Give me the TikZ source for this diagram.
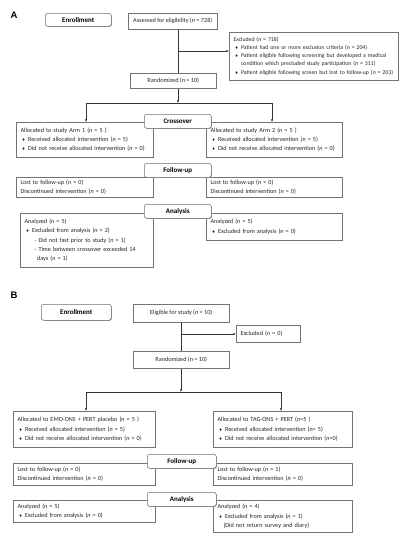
\documentclass[tikz,border=0pt]{standalone}
\usepackage{fontspec}
\setmainfont{Carlito}
\newfontfamily\djv{DejaVu Sans}
\newfontfamily\arialf{Liberation Sans}
\usetikzlibrary{arrows.meta,shadows}
\newcommand\nn{\textit{n}}
\newcommand\bul{{\djv\fontsize{4}{4}\selectfont ♦}}
\newcommand\itm{\hspace*{1.3pt}\makebox[6.2pt][l]{\bul}}
\newcommand\cnt{\hspace*{7.5pt}}
\tikzset{
  shad/.style={general shadow={fill=black!45, shadow xshift=0.6pt, shadow yshift=-0.6pt}},
  cbox/.style={draw=black!55, line width=0.5pt, fill=white, shad, inner xsep=4.3pt, inner ysep=1pt,
    align=left, anchor=north west, text=black!85, font=\fontsize{6.2}{9.2}\selectfont},
  mbox/.style={cbox, align=center, inner xsep=1pt},
  lbox/.style={draw=black!55, line width=0.5pt, fill=white, rounded corners=2.5pt, shad,
    anchor=north west, font=\fontsize{7}{8}\selectfont\bfseries, inner sep=0pt, align=center},
  conn/.style={draw=black!80, line width=0.6pt},
  arr/.style={conn, -{Latex[length=2.6pt,width=2.2pt]}},
  panel/.style={font=\arialf\bfseries\fontsize{9.5}{10}\selectfont, inner sep=0pt}
}
\begin{document}
\begin{tikzpicture}[x=1pt,y=-1pt]
\useasboundingbox[fill=white] (0,0) rectangle (404,550);

% ---------------- Panel A ----------------
\node[panel] (pA) at (14,15) {A};
\node[lbox, minimum width=66pt, minimum height=13pt] (enA) at (45,13) {Enrollment};
\node[mbox, minimum width=89pt, minimum height=16pt] (aA) at (128,13) {Assessed for eligibility (\nn{} = 728)};
\node[cbox, minimum width=169pt, minimum height=48pt, text width=160.4pt, font=\fontsize{5.8}{8.1}\selectfont] (exA) at (229,32)
 {Excluded (\nn{} = 718)\\
  \itm Patient had one or more exclusion criteria (\nn{} = 204)\\
  \itm Patient eligible following screening but developed a medical\\
  \cnt condition which precluded study participation (\nn{} = 311)\\
  \itm Patient eligible following screen but lost to follow-up (\nn{} = 203)};
\node[mbox, minimum width=86pt, minimum height=15pt] (rdA) at (130,73) {Randomized (\nn{} = 10)};

\node[cbox, minimum width=137pt, minimum height=35pt, text width=128.4pt] (arm1) at (16,122)
 {Allocated to study Arm 1 (\nn{} = 5 )\\
  \itm Received allocated intervention (\nn{} = 5)\\
  \itm Did not receive allocated intervention (\nn{} = 0)};
\node[cbox, minimum width=136pt, minimum height=35pt, text width=127.4pt] (arm2) at (206,122)
 {Allocated to study Arm 2 (\nn{} = 5 )\\
  \itm Received allocated intervention (\nn{} = 5)\\
  \itm Did not receive allocated intervention (\nn{} = 0)};
\node[cbox, minimum width=137pt, minimum height=20pt, text width=128.4pt] (lo1A) at (16,177)
 {Lost to follow-up (\nn{} = 0)\\ Discontinued intervention (\nn{} = 0)};
\node[cbox, minimum width=136pt, minimum height=20pt, text width=127.4pt] (lo2A) at (206,177)
 {Lost to follow-up (\nn{} = 0)\\ Discontinued intervention (\nn{} = 0)};
\node[cbox, minimum width=133pt, minimum height=54pt, text width=124.4pt] (an1A) at (20,213)
 {Analyzed (\nn{} = 5)\\
  \itm Excluded from analysis (\nn{} = 2)\\
  \hspace*{10pt}- Did not fast prior to study (\nn{} = 1)\\
  \hspace*{10pt}- Time between crossover exceeded 14\\
  \hspace*{12.5pt}days (\nn{} = 1)};
\node[cbox, minimum width=136pt, minimum height=27pt, text width=127.4pt] (an2A) at (206,213)
 {Analyzed (\nn{} = 5)\\
  \itm Excluded from analysis (\nn{} = 0)};

\node[lbox, minimum width=67pt, minimum height=14pt] (crA) at (144,114) {Crossover};
\node[lbox, minimum width=67pt, minimum height=14pt] (fuA) at (144,163) {Follow-up};
\node[lbox, minimum width=67pt, minimum height=14pt] (anA) at (144,204) {Analysis};

\coordinate (vA) at (178,0);
\coordinate (jA) at (178,51);
\coordinate (sA) at (178,103);
\coordinate (lA) at (86,103);
\coordinate (rA) at (272,103);
\draw[conn] (aA.south -| vA) -- (rdA.north -| vA);
\draw[arr] (jA) -- (exA.west |- jA);
\draw[arr] (rdA.south -| vA) -- (sA);
\draw[conn] (lA) -- (rA);
\draw[arr] (lA) -- (arm1.north -| lA);
\draw[arr] (rA) -- (arm2.north -| rA);

% ---------------- Panel B ----------------
\node[panel] (pB) at (14,295) {B};
\node[lbox, minimum width=70pt, minimum height=16pt] (enB) at (41,304) {Enrollment};
\node[mbox, minimum width=96pt, minimum height=18pt] (elB) at (133,304) {Eligible for study (\nn{} = 10)};
\node[cbox, minimum width=64pt, minimum height=17pt, text width=55.4pt] (exB) at (236,325) {Excluded (\nn{} = 0)};
\node[mbox, minimum width=96pt, minimum height=17pt] (rdB) at (133,351) {Randomized (\nn{} = 10)};

\node[cbox, minimum width=142pt, minimum height=36pt, text width=133.4pt] (emo) at (13,411)
 {Allocated to EMO-ONS + PERT placebo (\nn{} = 5 )\\
  \itm Received allocated intervention (\nn{} = 5)\\
  \itm Did not receive allocated intervention (\nn{} = 0)};
\node[cbox, minimum width=139pt, minimum height=36pt, text width=130.4pt] (tag) at (213,411)
 {Allocated to TAG-ONS + PERT (\nn{}=5 )\\
  \itm Received allocated intervention (\nn{}= 5)\\
  \itm Did not receive allocated intervention (\nn{}=0)};
\node[cbox, minimum width=142pt, minimum height=22pt, text width=133.4pt] (lo1B) at (13,463)
 {Lost to follow-up (\nn{} = 0)\\ Discontinued intervention (\nn{} = 0)};
\node[cbox, minimum width=139pt, minimum height=22pt, text width=130.4pt] (lo2B) at (213,463)
 {Lost to follow-up (\nn{} = 1)\\ Discontinued intervention (\nn{} = 0)};
\node[cbox, minimum width=142pt, minimum height=22pt, text width=133.4pt] (an1B) at (13,500)
 {Analyzed (\nn{} = 5)\\
  \itm Excluded from analysis (\nn{} = 0)};
\node[cbox, minimum width=139pt, minimum height=32pt, text width=130.4pt] (an2B) at (213,500)
 {Analyzed (\nn{} = 4)\\
  \itm Excluded from analysis (\nn{} = 1)\\
  \hspace*{6pt}(Did not return survey and diary)};

\node[lbox, minimum width=69pt, minimum height=14pt] (fuB) at (147,454) {Follow-up};
\node[lbox, minimum width=69pt, minimum height=14pt] (anB) at (147,492) {Analysis};

\coordinate (vB) at (181,0);
\coordinate (jB) at (181,334);
\coordinate (sB) at (181,392);
\coordinate (lB) at (86,392);
\coordinate (rB) at (281,392);
\draw[conn] (elB.south -| vB) -- (rdB.north -| vB);
\draw[arr] (jB) -- (exB.west |- jB);
\draw[arr] (rdB.south -| vB) -- (sB);
\draw[conn] (lB) -- (rB);
\draw[arr] (lB) -- (emo.north -| lB);
\draw[arr] (rB) -- (tag.north -| rB);
\end{tikzpicture}
\end{document}
